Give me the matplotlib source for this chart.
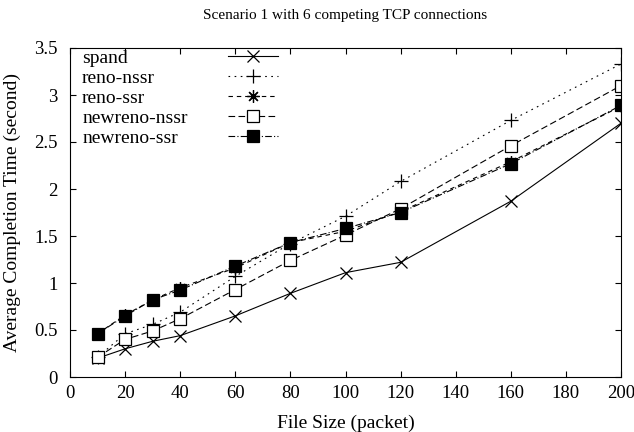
import numpy as np
from matplotlib import pyplot as plt
from matplotlib.lines import Line2D

plt.rcParams['font.family'] = ['Liberation Serif', 'DejaVu Serif']

# file size in packets
file_size = [10, 20, 30, 40, 60, 80, 100, 120, 160, 200]

# average completion time (second)
spand = [0.20, 0.30, 0.38, 0.44, 0.65, 0.89, 1.11, 1.22, 1.87, 2.70]
reno_nssr = [0.21, 0.46, 0.56, 0.69, 1.07, 1.42, 1.71, 2.08, 2.73, 3.33]
reno_ssr = [0.46, 0.66, 0.82, 0.95, 1.16, 1.43, 1.55, 1.76, 2.29, 2.88]
newreno_nssr = [0.21, 0.40, 0.49, 0.62, 0.93, 1.24, 1.51, 1.79, 2.46, 3.10]
newreno_ssr = [0.46, 0.65, 0.82, 0.925, 1.18, 1.43, 1.58, 1.75, 2.27, 2.89]

names = ["spand", "reno-nssr", "reno-ssr", "newreno-nssr", "newreno-ssr"]

x_ticks = [0, 20, 40, 60, 80, 100, 120, 140, 160, 180, 200]
y_ticks = [0, 0.5, 1, 1.5, 2, 2.5, 3, 3.5]
y_tick_labels = ["0", "0.5", "1", "1.5", "2", "2.5", "3", "3.5"]

fig = plt.figure(figsize=(6.34, 4.32), dpi=100)
ax = fig.add_axes([70 / 634, 1 - 377 / 432, 551 / 634, 329 / 432])

lw = 0.8
lines = []
lines += ax.plot(file_size, spand, color="black", lw=lw, linestyle="-",
                 marker="x", markersize=9, markeredgewidth=0.9)
lines += ax.plot(file_size, reno_nssr, color="black", lw=lw, dashes=(1.5, 4),
                 marker="+", markersize=10, markeredgewidth=0.9)
lines += ax.plot(file_size, reno_ssr, color="black", lw=lw, dashes=(4, 3.5),
                 marker=(8, 2, 0), markersize=9, markeredgewidth=0.9)
lines += ax.plot(file_size, newreno_nssr, color="black", lw=lw, dashes=(6, 3),
                 marker="s", markersize=8.5, markerfacecolor="white",
                 markeredgewidth=0.9)
lines += ax.plot(file_size, newreno_ssr, color="black", lw=lw,
                 dashes=(6, 2, 1, 2), marker="s", markersize=8.5,
                 markerfacecolor="black", markeredgewidth=0.9)

ax.set_xlim(0, 200)
ax.set_ylim(0, 3.5)
ax.set_xticks(x_ticks)
ax.set_yticks(y_ticks)
ax.set_yticklabels(y_tick_labels)
ax.tick_params(axis="both", direction="in", length=4, width=0.8, top=True,
               right=True, labelsize=13.5)
ax.tick_params(axis="x", pad=6)
ax.tick_params(axis="y", pad=9)
for s in ax.spines.values():
    s.set_linewidth(0.8)

ax.set_xlabel("File Size (packet)", fontsize=14, labelpad=9)
ax.set_ylabel("Average Completion Time (second)", fontsize=14, labelpad=9)
ax.set_title("Scenario 1 with 6 competing TCP connections", fontsize=11,
             pad=21)

# gnuplot style key: left aligned labels, samples in a column to the right
common = dict(loc="upper left", frameon=False, fontsize=14,
              labelspacing=0.12, borderaxespad=0.0, borderpad=0.0)
blank = [Line2D([], [], linestyle="none") for _ in names]
key_text = ax.legend(blank, names, bbox_to_anchor=(0.022, 0.995),
                     handlelength=0, handletextpad=0, **common)
ax.add_artist(key_text)
ax.legend(lines, [""] * len(names), bbox_to_anchor=(0.287, 0.995),
          handlelength=2.55, handletextpad=0, **common)

fig.savefig("out.png", dpi=100)
